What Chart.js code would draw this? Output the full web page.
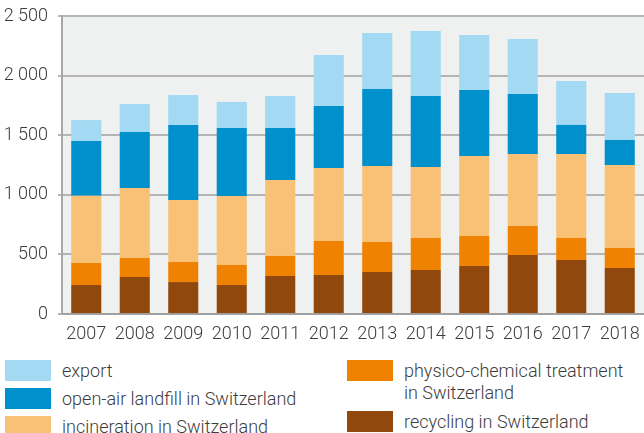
<!DOCTYPE html>
<html>
<head>
<meta charset="utf-8">
<script src="https://cdn.jsdelivr.net/npm/chart.js@4/dist/chart.umd.min.js"></script>
<style>
  body { margin: 0; background: #fff; font-family: Roboto, sans-serif; }
  #wrap { position: relative; width: 644px; height: 433px; overflow: hidden; }
  #box { position: absolute; left: 0; top: 0; width: 644px; height: 345px; }
  .item { position: absolute; font-size: 18px; font-weight: 300; color: #3c3c3c; line-height: 22px; }
  .sw { position: absolute; width: 46px; height: 21px; }
  .lbl { position: absolute; white-space: nowrap; }
</style>
</head>
<body>
<div id="wrap">
  <div id="box"><canvas id="chart"></canvas></div>
  <div id="legend"></div>
</div>
<script>
const years = ["2007", "2008", "2009", "2010", "2011", "2012", "2013", "2014", "2015", "2016", "2017", "2018"]

const recycling = [243, 310, 268, 243, 319, 327, 352, 369, 403, 495, 453, 386]
const physicoChemical = [185, 160, 168, 168, 168, 285, 252, 269, 251, 243, 185, 168]
const incineration = [565, 587, 520, 579, 637, 613, 638, 595, 671, 604, 704, 696]
const landfill = [458, 470, 630, 570, 436, 520, 646, 596, 554, 504, 244, 210]
const exported = [176, 235, 251, 219, 269, 428, 469, 545, 462, 461, 369, 394]

const colors = {
  export: "#a3d9f2",
  landfill: "#0090cc",
  incineration: "#f8c176",
  physico: "#ef8200",
  recycling: "#91480d"
}

// legend laid out like the original, two columns
const legendItems = [
  { text: "export", color: colors.export, x: 5, y: 360 },
  { text: "open-air landfill in Switzerland", color: colors.landfill, x: 5, y: 388 },
  { text: "incineration in Switzerland", color: colors.incineration, x: 5, y: 416 },
  { text: "physico-chemical treatment<br>in Switzerland", color: colors.physico, x: 347, y: 360 },
  { text: "recycling in Switzerland", color: colors.recycling, x: 347, y: 411 }
]

const legend = document.getElementById("legend")
legendItems.forEach(item => {
  const el = document.createElement("div")
  el.className = "item"
  el.style.left = item.x + "px"
  el.style.top = item.y + "px"
  el.innerHTML = `<div class="sw" style="left:0;top:0;background:${item.color}"></div>` +
    `<div class="lbl" style="left:57px;top:0">${item.text}</div>`
  legend.appendChild(el)
})

const plotBackground = {
  id: "plotBackground",
  beforeDraw(chart) {
    const { ctx, chartArea: a } = chart
    ctx.save()
    ctx.fillStyle = "#eff0f0"
    ctx.fillRect(a.left, a.top, a.right - a.left, a.bottom - a.top)
    ctx.restore()
  }
}

const bar = (label, data, color) => ({
  label, data,
  backgroundColor: color,
  borderWidth: 0,
  barPercentage: 0.62,
  categoryPercentage: 1
})

const tickFont = { family: "Roboto", size: 18, weight: 300 }

new Chart(document.getElementById("chart"), {
  type: "bar",
  data: {
    labels: years,
    datasets: [
      bar("recycling in Switzerland", recycling, colors.recycling),
      bar("physico-chemical treatment in Switzerland", physicoChemical, colors.physico),
      bar("incineration in Switzerland", incineration, colors.incineration),
      bar("open-air landfill in Switzerland", landfill, colors.landfill),
      bar("export", exported, colors.export)
    ]
  },
  options: {
    responsive: true,
    maintainAspectRatio: false,
    animation: false,
    layout: { padding: { top: 16, right: 0, bottom: 0, left: 0 } },
    plugins: { legend: { display: false }, tooltip: { enabled: false } },
    scales: {
      x: {
        stacked: true,
        grid: { display: false, drawTicks: false },
        border: { display: true, color: "#a0a0a0", width: 2 },
        ticks: { color: "#3c3c3c", font: tickFont, padding: 10, maxRotation: 0 },
        afterFit: scale => {
          scale.height = 31
          scale.paddingLeft = 0
          scale.paddingRight = 0
        }
      },
      y: {
        stacked: true,
        min: 0,
        max: 2500,
        grid: { color: "#b5b5b5", lineWidth: 2, tickLength: 4 },
        border: { display: true, color: "#a8a8a8", width: 2 },
        ticks: {
          stepSize: 500,
          padding: 10,
          color: "#3c3c3c",
          font: tickFont,
          callback: v => String(v).replace(/\B(?=(\d{3})+(?!\d))/g, " ")
        },
        afterFit: scale => {
          scale.width = 62
          scale.paddingTop = 0
          scale.paddingBottom = 0
        }
      }
    }
  },
  plugins: [plotBackground]
})
</script>
</body>
</html>
